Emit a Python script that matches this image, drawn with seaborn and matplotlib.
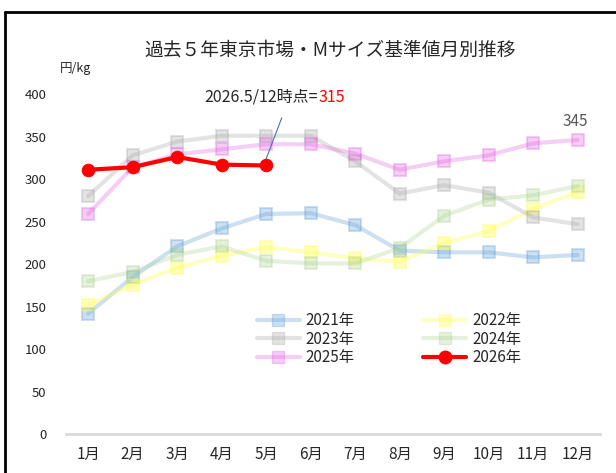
import numpy as np
import pandas as pd
import matplotlib
matplotlib.use("Agg")
import matplotlib.pyplot as plt
from matplotlib.lines import Line2D
import seaborn as sns

months = ['1月', '2月', '3月', '4月', '5月', '6月', '7月', '8月', '9月', '10月', '11月', '12月']
y2021 = [142, 185, 221, 242, 259, 260, 246, 216, 214, 214, 208, 211]
y2022 = [152, 176, 196, 210, 220, 214, 207, 203, 225, 239, 265, 285]
y2023 = [280, 328, 344, 351, 351, 351, 321, 283, 293, 284, 255, 247]
y2024 = [180, 191, 211, 221, 204, 201, 201, 219, 257, 276, 281, 292]
y2025 = [259, 314, 329, 335, 341, 341, 330, 311, 321, 328, 342, 346]
y2026 = [311, 314, 326, 317, 316]
years = ['2021年', '2022年', '2023年', '2024年', '2025年', '2026年']
colors = ['#5B9BD5', '#FFFF33', '#A5A5A5', '#A9D18E', '#E15FE1', '#FF0000']
latest_label = '315'
dec_label = '345'

series = [y2021, y2022, y2023, y2024, y2025, y2026]
rows = []
for yr, vals in zip(years, series):
    for m, v in zip(months, vals):
        rows.append({'month': m, 'value': v, 'year': yr})
df = pd.DataFrame(rows)
df['x'] = df['month'].map({m: i for i, m in enumerate(months)})

sns.set_style("white")
plt.rcParams['font.family'] = ['Noto Sans CJK JP', 'DejaVu Sans']
text_c = '#262626'

fig = plt.figure(figsize=(6.16, 4.73), dpi=100)
ax = fig.add_axes([0.107, 0.0814, 0.867, 0.7199])

handles = {}
for yr, c in zip(years, colors):
    d = df[df['year'] == yr]
    if yr == '2026年':
        sns.lineplot(data=d, x='x', y='value', ax=ax, color=c, lw=3,
                     marker='o', markersize=9, markeredgecolor=c, zorder=5)
        handles[yr] = Line2D([], [], color=c, lw=3, marker='o', markersize=9)
    else:
        sns.lineplot(data=d, x='x', y='value', ax=ax, color=c, lw=3, alpha=0.3,
                     marker='s', markersize=8.5, markerfacecolor=c,
                     markeredgecolor=c, markeredgewidth=1.5)
        handles[yr] = Line2D([], [], color=c, lw=3, alpha=0.3, marker='s',
                             markersize=8.5, markerfacecolor=c, markeredgecolor=c)

ax.set_xlim(-0.5, 11.5)
ax.set_ylim(0, 400)
ax.set_xticks(range(12))
ax.set_xticklabels(months, fontsize=11, color=text_c)
ax.set_yticks(range(0, 401, 50))
ax.tick_params(axis='y', labelsize=9.5, colors=text_c, length=0, pad=14)
ax.tick_params(axis='x', length=0, pad=8)
ax.set_xlabel('')
ax.set_ylabel('')
for s in ['top', 'right', 'left']:
    ax.spines[s].set_visible(False)
ax.spines['bottom'].set_color('#D9D9D9')
ax.spines['bottom'].set_linewidth(2)

order = ['2021年', '2023年', '2025年', '2022年', '2024年', '2026年']
ax.legend([handles[k] for k in order], order, ncol=2, frameon=False,
          loc='center', bbox_to_anchor=(0.605, 0.28), fontsize=11,
          handlelength=2.8, columnspacing=4.5, labelspacing=0.1,
          handletextpad=0.4, labelcolor=text_c)

# annotation for latest value
ax.annotate('', xy=(4, y2026[4] + 8), xytext=(4.35, 372),
            arrowprops=dict(arrowstyle='-', color='#4472C4', lw=0.8,
                            shrinkA=0, shrinkB=0))
t = ax.text(2.62, 396, '2026.5/12時点=', fontsize=11.5, color=text_c,
            va='center', ha='left')
ax.annotate(latest_label, xy=(1, 0.5), xycoords=t, va='center', ha='left',
            fontsize=11.5, color='#FF0000')
ax.text(10.95, 368, dec_label, fontsize=11, color='#595959',
        ha='center', va='center')

fig.text(0.536, 0.894, '過去５年東京市場・Mサイズ基準値月別推移', fontsize=13.5,
         ha='center', va='center', color=text_c)
fig.text(0.122, 0.856, '円/kg', fontsize=9, ha='center', va='center', color=text_c)

# outer frame (partially cropped box)
fig.add_artist(Line2D([5 / 616, 1.0], [1 - 12 / 473, 1 - 12 / 473],
                      transform=fig.transFigure, color='black', lw=2))
fig.add_artist(Line2D([5 / 616, 5 / 616], [0, 1 - 12 / 473],
                      transform=fig.transFigure, color='black', lw=2))

fig.savefig('out.png', dpi=100)
